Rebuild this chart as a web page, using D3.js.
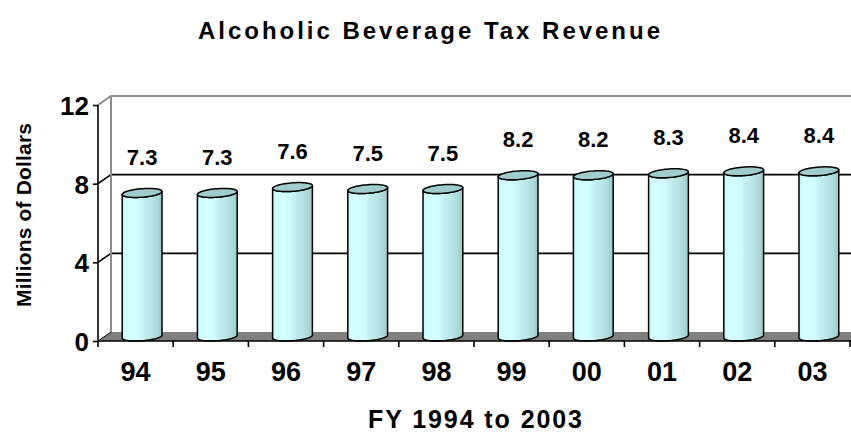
<!DOCTYPE html>
<html>
<head>
<meta charset="utf-8">
<script src="https://cdn.jsdelivr.net/npm/d3@7"></script>
<style>
  html, body { margin: 0; padding: 0; background: #fff; }
  svg { display: block; font-family: "Liberation Sans", Arial, sans-serif; }
</style>
</head>
<body>
<svg id="chart" width="851" height="433"></svg>
<script>
// Fiscal years and tax revenue (millions of dollars)
const years = ["94", "95", "96", "97", "98", "99", "00", "01", "02", "03"];
const revenue = [7.3, 7.3, 7.6, 7.5, 7.5, 8.2, 8.2, 8.3, 8.4, 8.4];
const yTicks = [0, 4, 8, 12];

const titleText = "Alcoholic Beverage Tax Revenue";
const yTitleText = "Millions of Dollars";
const xTitleText = "FY 1994 to 2003";

(function () {
  const svg = d3.select("#chart");

  // Front plane of the 3-D box and the oblique depth offset
  const plotLeft = 98, plotRight = 850, plotBottom = 341, plotTop = 105;
  const depthX = 13, depthY = -9;

  const x = d3.scaleBand().domain(years).range([plotLeft, plotRight]).padding(0);
  const y = d3.scaleLinear().domain([0, 12]).range([plotBottom, plotTop]);

  // Gradient for the cylinder bodies
  const defs = svg.append("defs");
  const grad = defs.append("linearGradient").attr("id", "cyl")
    .attr("x1", 0).attr("x2", 1).attr("y1", 0).attr("y2", 0);
  [[0, "#c4f4f4"], [0.08, "#ccffff"], [0.22, "#d6ffff"], [0.42, "#ccfcfc"], [0.55, "#c2eeee"],
   [0.75, "#b8e4e4"], [0.9, "#a9d6d6"], [1, "#98c6c6"]].forEach(([o, c]) =>
    grad.append("stop").attr("offset", o).attr("stop-color", c));

  // Back wall, side wall and floor
  const g = svg.append("g");
  const backLeft = plotLeft + depthX;
  const backTop = y(12) + depthY;
  const backBottom = y(0) + depthY;

  g.append("path")
    .attr("d", `M${plotLeft},${plotBottom} L${plotRight + 20},${plotBottom} L${plotRight + 20 + depthX},${backBottom} L${backLeft},${backBottom} Z`)
    .attr("fill", "#808080");

  // Gridlines on the back wall plus their diagonal on the side wall
  yTicks.filter(t => t > 0 && t < 12).forEach(t => {
    g.append("path")
      .attr("d", `M${plotLeft},${y(t)} L${backLeft},${y(t) + depthY} L851,${y(t) + depthY}`)
      .attr("fill", "none").attr("stroke", "#000").attr("stroke-width", 1.6);
  });

  // Wall borders
  g.append("path")
    .attr("d", `M${plotLeft},${y(12)} L${backLeft},${backTop} L851,${backTop}`)
    .attr("fill", "none").attr("stroke", "#8c8c8c").attr("stroke-width", 2);
  g.append("line")
    .attr("x1", backLeft).attr("x2", backLeft).attr("y1", backTop).attr("y2", backBottom)
    .attr("stroke", "#8c8c8c").attr("stroke-width", 2);
  g.append("line")
    .attr("x1", plotLeft).attr("x2", backLeft).attr("y1", plotBottom).attr("y2", backBottom)
    .attr("stroke", "#000").attr("stroke-width", 1);

  // Cylinders sit at mid-depth
  const r = x.bandwidth() * 0.25;
  const ax = depthX / 2, ay = depthY / 2;
  const t0 = Math.atan2(ax, r);

  function ellPt(cx, cy, t) {
    return [cx + r * Math.cos(t) + ax * Math.sin(t), cy + ay * Math.sin(t)];
  }
  function ellArc(cx, cy, ta, tb, n) {
    const pts = [];
    for (let i = 0; i <= n; i++) pts.push(ellPt(cx, cy, ta + (tb - ta) * i / n));
    return pts;
  }

  const bars = g.selectAll("g.bar").data(years.map((d, i) => ({ year: d, v: revenue[i] })))
    .join("g").attr("class", "bar");

  bars.each(function (d) {
    const cx = x(d.year) + x.bandwidth() / 2 + ax;
    const cyB = y(0) + ay;
    const cyT = y(d.v) + ay;
    const sel = d3.select(this);
    // body: front half of the base, then back along the front half of the top
    const baseFront = ellArc(cx, cyB, t0 + Math.PI, t0 + 2 * Math.PI, 40);
    const topFront = ellArc(cx, cyT, t0 + 2 * Math.PI, t0 + Math.PI, 40);
    sel.append("path")
      .attr("d", d3.line()(baseFront.concat(topFront)) + "Z")
      .attr("fill", "url(#cyl)")
      .attr("stroke", "#000").attr("stroke-width", 1.5).attr("stroke-linejoin", "round");
    sel.append("path")
      .attr("d", d3.line()(ellArc(cx, cyT, 0, 2 * Math.PI, 60)) + "Z")
      .attr("fill", "#9fcdcd")
      .attr("stroke", "#000").attr("stroke-width", 1.5);
    // value label above the cylinder
    sel.append("text")
      .attr("x", cx).attr("y", cyT - 28)
      .attr("text-anchor", "middle")
      .attr("font-size", 22).attr("font-weight", "bold")
      .text(d3.format(".1f")(d.v));
  });

  // Y axis
  const yAxis = d3.axisLeft(y).tickValues(yTicks).tickSize(5).tickPadding(4).tickFormat(d3.format("d"));
  const yg = svg.append("g").attr("transform", `translate(${plotLeft},0)`).call(yAxis);
  yg.select(".domain").attr("stroke", "#000").attr("stroke-width", 1.6).attr("d", `M0,${plotTop}V${plotBottom}`);
  yg.selectAll(".tick line").attr("stroke", "#000").attr("stroke-width", 1.6);
  yg.selectAll(".tick text").attr("font-size", 26).attr("font-weight", "bold").attr("fill", "#000")
    .attr("font-family", "'Liberation Sans', Arial, sans-serif").attr("dy", "0.36em");

  // X axis: labels centred in bands, ticks on band boundaries
  const xAxis = d3.axisBottom(x).tickSize(0).tickPadding(21);
  const xg = svg.append("g").attr("transform", `translate(0,${plotBottom})`).call(xAxis);
  xg.select(".domain").attr("stroke", "#000").attr("stroke-width", 1.6).attr("d", `M${plotLeft},0H851`);
  xg.selectAll(".tick text").attr("font-size", 27).attr("font-weight", "bold").attr("fill", "#000")
    .attr("font-family", "'Liberation Sans', Arial, sans-serif");
  xg.selectAll("line.bound").data(years.map(d => x(d)).concat([plotRight]))
    .join("line").attr("class", "bound")
    .attr("x1", d => d).attr("x2", d => d).attr("y1", 0).attr("y2", 6)
    .attr("stroke", "#000").attr("stroke-width", 1.6);

  // Titles
  svg.append("text")
    .attr("x", 429).attr("y", 39).attr("text-anchor", "middle")
    .attr("font-size", 24).attr("font-weight", "bold")
    .attr("textLength", 462).attr("lengthAdjust", "spacing")
    .text(titleText);

  svg.append("text")
    .attr("transform", "translate(31,215) rotate(-90)")
    .attr("text-anchor", "middle")
    .attr("font-size", 21).attr("font-weight", "bold")
    .attr("textLength", 184).attr("lengthAdjust", "spacing")
    .text(yTitleText);

  svg.append("text")
    .attr("x", 475).attr("y", 428).attr("text-anchor", "middle")
    .attr("font-size", 25).attr("font-weight", "bold")
    .attr("textLength", 214).attr("lengthAdjust", "spacing")
    .text(xTitleText);
})();
</script>
</body>
</html>
